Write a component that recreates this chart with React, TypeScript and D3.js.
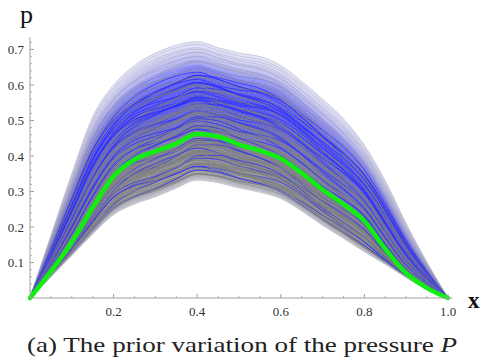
import React from "react";
import * as d3 from "d3";

// ---- data ----
const xGrid = [0, 0.05, 0.1, 0.15, 0.2, 0.25, 0.3, 0.35, 0.4, 0.45, 0.5, 0.55, 0.6, 0.65, 0.7, 0.75, 0.8, 0.85, 0.9, 0.95, 1.0];
const meanP = [0, 0.075, 0.158, 0.255, 0.343, 0.39, 0.413, 0.435, 0.462, 0.455, 0.432, 0.415, 0.392, 0.352, 0.305, 0.264, 0.217, 0.138, 0.07, 0.028, 0];
const upperP = [0, 0.175, 0.35, 0.51, 0.6, 0.655, 0.69, 0.712, 0.722, 0.705, 0.69, 0.68, 0.655, 0.61, 0.56, 0.505, 0.43, 0.33, 0.21, 0.1, 0];
const lowerP = [0, 0.06, 0.12, 0.18, 0.235, 0.265, 0.285, 0.31, 0.332, 0.325, 0.31, 0.298, 0.28, 0.245, 0.205, 0.168, 0.13, 0.095, 0.058, 0.025, 0];

// relative position of each sample curve inside the band (-1 = lower edge, 0 = mean, 1 = upper edge)
const spreadLevels = [
  1.0, 0.97, 0.94, 0.915, 0.89, 0.87, 0.85, 0.83, 0.81, 0.795, 0.78, 0.765, 0.75,
  0.738, 0.726, 0.714, 0.702, 0.69, 0.678, 0.666, 0.654, 0.642, 0.63, 0.618, 0.606, 0.594,
  0.582, 0.57, 0.558, 0.546, 0.534, 0.522, 0.51, 0.498, 0.486, 0.474, 0.462, 0.45, 0.438, 0.426,
  0.414, 0.402, 0.39, 0.378, 0.366, 0.354, 0.342, 0.33, 0.318, 0.306, 0.294, 0.282, 0.27, 0.258,
  0.246, 0.234, 0.222, 0.21, 0.198, 0.186, 0.174, 0.162, 0.15, 0.138, 0.126, 0.114, 0.102, 0.09,
  0.078, 0.066, 0.054, 0.042, 0.03, 0.018, 0.006,
  -0.01, -0.03, -0.05, -0.07, -0.09, -0.11, -0.13, -0.15, -0.17, -0.19, -0.21, -0.23, -0.25,
  -0.27, -0.29, -0.31, -0.33, -0.35, -0.37, -0.39, -0.41, -0.43, -0.45, -0.47, -0.49, -0.51,
  -0.53, -0.55, -0.57, -0.59, -0.61, -0.63, -0.65, -0.67, -0.69, -0.71, -0.73, -0.75, -0.77,
  -0.79, -0.81, -0.83, -0.85, -0.87, -0.89, -0.91, -0.93, -0.95, -0.97, -1.0,
];

// shape deviations of individual curves
const wiggleA = [0, 0.4, 0.8, 1, 0.6, 0, -0.6, -1, -0.8, -0.3, 0.2, 0.7, 1, 0.8, 0.3, -0.3, -0.7, -0.8, -0.5, -0.2, 0];
const wiggleB = [0, -0.3, -0.6, -0.4, 0.2, 0.8, 1, 0.6, 0, -0.6, -1, -0.8, -0.2, 0.4, 0.8, 0.9, 0.6, 0.2, -0.2, -0.2, 0];
const wiggleC = [0, 0.2, 0.6, 1, 1, 0.7, 0.2, -0.4, -0.8, -1, -0.7, -0.2, 0.3, 0.6, 0.5, 0.1, -0.4, -0.6, -0.4, -0.1, 0];
const wiggleWeights = [
  [0.8, -0.3, 0.2], [-0.5, 0.6, -0.1], [0.1, -0.2, 0.9], [-0.7, -0.4, 0.3], [0.4, 0.7, -0.5],
  [-0.2, 0.1, -0.8], [0.6, -0.6, -0.3], [-0.9, 0.2, 0.4], [0.3, 0.3, 0.6], [0, -0.9, -0.2],
  [0.5, 0.1, -0.6], [-0.4, -0.5, -0.4], [0.9, 0.4, 0.1],
];
const strokeHigh = "BGBBGBGBBGBG";
const strokeMid = "BGGBGGGBGGBG";
const strokeLow = "GGGBGGGGBGGGGB";

const xTicks = [0.2, 0.4, 0.6, 0.8, 1.0];
const yTicks = [0.1, 0.2, 0.3, 0.4, 0.5, 0.6, 0.7];
const xMinor = [0.05, 0.1, 0.15, 0.25, 0.3, 0.35, 0.45, 0.5, 0.55, 0.65, 0.7, 0.75, 0.85, 0.9, 0.95];
const yMinor = [0.02, 0.04, 0.06, 0.08, 0.12, 0.14, 0.16, 0.18, 0.22, 0.24, 0.26, 0.28, 0.32, 0.34, 0.36, 0.38, 0.42, 0.44, 0.46, 0.48, 0.52, 0.54, 0.56, 0.58, 0.62, 0.64, 0.66, 0.68, 0.72];

export default function App() {
  const W = 484, H = 362;
  const x = d3.scaleLinear().domain([0, 1]).range([30, 448]);
  const y = d3.scaleLinear().domain([0, 0.7]).range([298, 49.5]);

  const curveAt = (s: number, wig: boolean, idx: number) =>
    xGrid.map((xv, i) => {
      const m = meanP[i];
      let v = s >= 0 ? m + s * (upperP[i] - m) : m + s * (m - lowerP[i]);
      if (wig) {
        const w = wiggleWeights[idx % wiggleWeights.length];
        const taper = Math.min(1, (1 - Math.abs(s)) * 2.5);
        const amp = 0.03 * (upperP[i] - lowerP[i]) * taper;
        v += amp * (w[0] * wiggleA[i] + w[1] * wiggleB[i] + w[2] * wiggleC[i]);
      }
      return [xv, v] as [number, number];
    });

  const line = d3.line<[number, number]>().x((d) => x(d[0])).y((d) => y(d[1])).curve(d3.curveMonotoneX);
  const area = d3
    .area<[number, number, number]>()
    .x((d) => x(d[0]))
    .y0((d) => y(d[1]))
    .y1((d) => y(d[2]))
    .curve(d3.curveMonotoneX);

  const fillColor = d3
    .scaleLinear<string>()
    .domain([-1, -0.88, -0.5, 0, 0.2, 0.4, 0.6, 0.7, 0.8, 0.9, 1])
    .range(["#d2d2d8", "#a0a0a8", "#8a8a90", "#7e7e9a", "#6868c4", "#5050ee", "#5c5cfc", "#8484f8", "#b4b4f4", "#d6d6f6", "#e8e8f8"]);

  const bands = [] as JSX.Element[];
  for (let k = 0; k < spreadLevels.length - 1; k++) {
    const a = curveAt(spreadLevels[k], false, k);
    const b = curveAt(spreadLevels[k + 1], false, k);
    const pts = a.map((p, i) => [p[0], p[1], b[i][1]] as [number, number, number]);
    const mid = (spreadLevels[k] + spreadLevels[k + 1]) / 2;
    bands.push(<path key={"b" + k} d={area(pts) || ""} fill={fillColor(mid)} stroke={fillColor(mid)} strokeWidth={0.4} />);
  }

  const lines = spreadLevels.map((s, k) => {
    const pts = curveAt(s, true, k);
    let stroke = "#808080", width = 0.9, op = 0.85;
    if (s > 0.76) {
      stroke = "#9494b0"; width = 0.7; op = 0.55;
    } else if (s > 0.66) {
      stroke = k % 2 === 0 ? "#7878e8" : "#8c8ca8"; width = 0.8; op = 0.7;
    } else if (s < -0.88) {
      stroke = "#b4b4c0"; width = 0.7; op = 0.7;
    } else {
      const pat = s > 0.35 ? strokeHigh : s > -0.05 ? strokeMid : strokeLow;
      stroke = pat[k % pat.length] === "B" ? "#2a2aff" : "#808080";
    }
    return <path key={"l" + k} d={line(pts) || ""} fill="none" stroke={stroke} strokeWidth={width} strokeOpacity={op} />;
  });

  const meanPts = xGrid.map((xv, i) => [xv, meanP[i]] as [number, number]);
  const tickFont = "Liberation Serif, Times, serif";

  return (
    <div style={{ position: "fixed", left: 0, top: 0 }}>
      <svg width={W} height={H} viewBox={`0 0 ${W} ${H}`} style={{ display: "block", background: "#fff" }}>
        <g>{bands}</g>
        <g>{lines}</g>
        <path d={line(meanPts) || ""} fill="none" stroke="#10f010" strokeWidth={4.5} strokeLinecap="round" strokeLinejoin="round" />
        {/* axes */}
        <line x1={x(0)} x2={x(1.01)} y1={y(0)} y2={y(0)} stroke="#a0a0a0" strokeWidth={1} />
        <line x1={x(0)} x2={x(0)} y1={y(0)} y2={y(0.735)} stroke="#a0a0a0" strokeWidth={1} />
        {xTicks.map((t) => (
          <g key={"xt" + t}>
            <line x1={x(t)} x2={x(t)} y1={y(0)} y2={y(0) - 4} stroke="#a0a0a0" />
            <text x={x(t)} y={316} textAnchor="middle" fontFamily={tickFont} fontSize={13} fill="#333">
              {t.toFixed(1)}
            </text>
          </g>
        ))}
        {xMinor.map((t) => (
          <line key={"xm" + t} x1={x(t)} x2={x(t)} y1={y(0)} y2={y(0) - 2} stroke="#b0b0b0" />
        ))}
        {yTicks.map((t) => (
          <g key={"yt" + t}>
            <line x1={x(0)} x2={x(0) + 4} y1={y(t)} y2={y(t)} stroke="#a0a0a0" />
            <text x={24} y={y(t) + 4.5} textAnchor="end" fontFamily={tickFont} fontSize={13} fill="#333">
              {t.toFixed(1)}
            </text>
          </g>
        ))}
        {yMinor.map((t) => (
          <line key={"ym" + t} x1={x(0)} x2={x(0) + 2} y1={y(t)} y2={y(t)} stroke="#b0b0b0" />
        ))}
        <text x={20} y={23} fontFamily={tickFont} fontSize={26} fill="#111">p</text>
        <text x={468} y={308} fontFamily={tickFont} fontSize={23} fontWeight="bold" fill="#111">x</text>
        <text x={27} y={352} fontFamily={tickFont} fontSize={21} fill="#222" textLength={430} lengthAdjust="spacingAndGlyphs">
          (a) The prior variation of the pressure <tspan fontStyle="italic">P</tspan>
        </text>
      </svg>
    </div>
  );
}
